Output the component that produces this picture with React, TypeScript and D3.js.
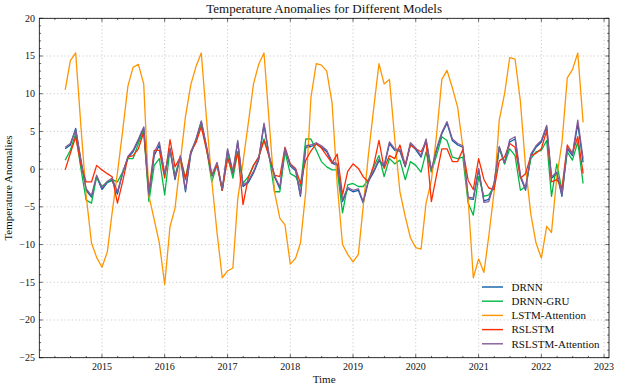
import React from 'react';
import * as d3 from 'd3';

const W = 618;
const H = 388;

// monthly series, June 2014 .. September 2022
const startDate = new Date(2014, 5, 1);
const nMonths = 100;

const seriesNames = ['DRNN', 'DRNN-GRU', 'LSTM-Attention', 'RSLSTM', 'RSLSTM-Attention'];
const seriesColors = ['#0C5DA5', '#00B945', '#FF9500', '#FF2C00', '#845B97'];

const drnn = [
  2.7, 3.2, 5.4, 1.0, -2.8, -3.7, -1.0, -2.7, -1.8, -1.5, -3.3, -0.5, 1.5, 2.3, 3.8, 5.5, -3.6, 1.8, 3.2, -0.8,
  2.6, -1.4, 1.6, -3.0, 2.0, 3.8, 6.3, 2.8, -1.0, 0.7, -2.8, 2.5, -0.6, 3.6, -2.3, -1.8, -0.5, 1.2, 5.9, 1.5,
  -1.0, -2.6, 2.6, 0.4, -0.2, -3.6, 2.9, 3.0, 3.3, 2.9, 2.3, 0.8, 0.5, -4.3, -2.6, -3.0, -2.8, -4.5, -1.6, -0.4,
  1.1, 0.3, 3.4, 2.5, 2.4, 0.3, 3.3, 2.6, 1.6, 3.8, -0.3, 2.5, 4.7, 6.1, 3.8, 3.2, 2.9, -3.9, -4.0, -0.1,
  -4.2, -4.0, -2.0, 2.8, 0.7, 3.6, 4.0, -1.0, -2.8, 1.8, 2.9, 3.6, 5.6, -1.2, -0.6, -3.6, 2.7, 1.8, 6.0, 0.9,
];

const drnnGru = [
  1.2, 2.5, 4.7, 0.0, -4.1, -4.5, -1.0, -2.3, -1.7, -1.4, -1.7, -0.4, 1.4, 1.4, 3.4, 5.1, -4.3, 0.5, 1.4, -3.4,
  2.7, -0.8, 1.6, -1.2, 2.3, 3.8, 6.0, 2.7, -1.7, 0.7, -2.8, 1.8, -1.2, 2.3, -1.9, -1.0, 0.5, 1.6, 4.0, 1.6,
  -3.0, -3.0, 2.3, -0.6, -1.0, -2.3, 4.0, 4.0, 2.5, 1.0, 0.3, -0.1, -0.1, -5.8, -2.1, -1.9, -2.3, -2.3, -1.4, 0.3,
  1.8, -1.0, 1.4, 0.7, 1.2, -1.4, 1.0, 0.5, -0.4, 2.3, -0.4, 1.8, 4.3, 3.8, 1.6, 1.4, 1.6, -4.5, -6.1, -1.0,
  -3.6, -3.4, -2.3, 2.9, 0.7, 2.7, 1.8, -2.8, -2.3, 1.4, 2.3, 2.5, 3.8, -3.6, 0.7, -2.8, 2.3, 1.2, 3.6, -1.9,
];

const lstmAttention = [
  10.5, 14.4, 15.4, 5.5, -3.5, -9.8, -11.7, -13.0, -11.0, -5.8, -0.5, 5.0, 11.0, 13.5, 13.9, 11.3, -3.5, -6.7, -9.8, -15.3,
  -7.6, -5.2, 1.0, 7.0, 11.2, 13.6, 15.4, 6.5, -1.5, -8.5, -14.4, -13.5, -13.1, -4.0, 1.0, 6.0, 11.3, 13.9, 15.4, 6.0,
  -3.0, -6.5, -7.4, -12.6, -11.8, -9.8, -3.0, 9.5, 14.0, 13.8, 13.0, 8.8, -2.0, -10.0, -11.3, -12.3, -11.3, -5.0, 2.0, 8.0,
  14.0, 11.3, 11.9, 4.0, -3.0, -6.3, -9.1, -10.4, -10.6, -4.5, -1.5, 4.5, 11.9, 13.1, 10.8, 8.2, 2.9, -4.0, -14.4, -11.9,
  -13.7, -8.9, -3.0, 6.5, 10.0, 14.8, 14.6, 9.0, 0.3, -6.0, -9.8, -11.8, -7.6, -8.4, -1.0, 3.5, 12.1, 13.2, 15.4, 6.2,
];

const rslstm = [
  -0.1, 2.1, 4.3, 0.5, -1.7, -1.7, 0.5, -0.1, -0.6, -1.0, -4.5, -1.7, 1.6, 1.8, 2.7, 4.9, -3.0, 2.5, 2.5, -1.2,
  3.9, 0.3, 1.6, -1.4, 2.3, 3.5, 5.6, 2.5, -0.8, 0.5, -2.8, 1.4, -0.4, 2.3, -4.7, -1.2, 0.5, 1.6, 3.8, 1.6,
  -0.8, -1.0, 2.9, 0.7, 0.1, -1.9, 1.2, 2.4, 3.4, 2.8, 1.8, 0.8, 2.0, -3.4, -0.3, 0.7, 0.1, -1.0, -1.7, 0.5,
  3.8, 0.1, 1.8, 1.4, 3.2, 0.5, 3.2, 2.7, 2.3, 3.6, -4.3, -0.8, 2.7, 2.7, 1.0, 1.0, 2.6, -1.5, -2.7, 1.4,
  -1.4, -2.5, -2.7, 1.1, 1.6, 3.4, 2.9, -1.2, -0.6, 1.8, 2.1, 2.7, 5.1, -1.7, -1.4, -2.5, 3.2, 2.1, 4.3, -0.6,
];

const rslstmAttention = [
  2.9, 3.4, 5.2, 1.2, -2.6, -3.5, -0.8, -2.5, -1.6, -1.2, -3.0, -0.6, 1.7, 2.5, 4.0, 5.6, -3.4, 2.2, 3.6, -0.6,
  2.8, -1.2, 1.8, -2.8, 2.2, 4.0, 6.4, 3.0, -0.8, 0.9, -2.6, 2.7, -0.3, 3.8, -2.1, -1.6, -0.3, 1.4, 6.1, 1.7,
  -0.8, -2.4, 2.8, 0.6, 0.0, -3.4, 3.1, 3.2, 3.5, 3.1, 2.5, 1.0, 0.7, -4.1, -2.4, -2.8, -2.6, -4.3, -1.4, -0.2,
  1.3, 0.5, 3.6, 2.7, 2.6, 0.5, 3.5, 2.8, 1.8, 4.0, -0.1, 2.7, 4.9, 6.3, 4.0, 3.4, 3.1, -3.7, -3.8, 0.1,
  -4.4, -4.3, -1.8, 3.0, 0.9, 3.9, 4.3, -0.8, -2.6, 2.0, 3.1, 3.8, 5.8, -1.0, -0.4, -3.4, 2.9, 2.0, 6.5, 1.4,
];

const seriesValues = [drnn, drnnGru, lstmAttention, rslstm, rslstmAttention];

const yTicks = [20, 15, 10, 5, 0, -5, -10, -15, -20, -25];
const xTickYears = [2015, 2016, 2017, 2018, 2019, 2020, 2021, 2022, 2023];

const FONT = "'Liberation Serif', 'DejaVu Serif', serif";

export default function App() {
  const dates = d3.range(nMonths).map((i) => d3.timeMonth.offset(startDate, i));
  const t0 = +dates[0];
  const t1 = +dates[dates.length - 1];
  const pad = (t1 - t0) * 0.05;

  const left = 39.3, right = 609, top = 18.3, bottom = 357.7;

  const x = d3.scaleTime().domain([new Date(t0 - pad), new Date(t1 + pad)]).range([left, right]);
  const y = d3.scaleLinear().domain([-25, 20]).range([bottom, top]);

  const line = d3
    .line<number>()
    .x((_, i) => x(dates[i]))
    .y((d) => y(d));

  const majorX = xTickYears.map((yr) => new Date(yr, 0, 1));
  const minorX: Date[] = [];
  for (let yr = 2013; yr <= 2023; yr++) {
    const a = +new Date(yr, 0, 1);
    const b = +new Date(yr + 1, 0, 1);
    for (let k = 1; k < 4; k++) {
      const t = new Date(a + ((b - a) * k) / 4);
      if (+t > +x.domain()[0] && +t < +x.domain()[1]) minorX.push(t);
    }
  }
  const minorY = d3.range(-25, 21, 1).filter((v) => v % 5 !== 0);

  const fmt = (v: number) => (v < 0 ? '\u2212' + Math.abs(v) : String(v));

  const legendX = 482;
  const legendY0 = 287;
  const legendDy = 14.2;

  return (
    <svg
      width={W}
      height={H}
      style={{ position: 'absolute', left: 0, top: 0, background: '#fff' }}
      fontFamily={FONT}
    >
      <rect x={0} y={0} width={W} height={H} fill="#fff" />
      {/* grid */}
      <g stroke="#a8a8a8" strokeWidth={0.7} strokeDasharray="1,2.6">
        {majorX.map((d, i) => (
          <line key={'gx' + i} x1={x(d)} x2={x(d)} y1={top} y2={bottom} />
        ))}
        {yTicks.map((v, i) => (
          <line key={'gy' + i} x1={left} x2={right} y1={y(v)} y2={y(v)} />
        ))}
      </g>
      {/* series */}
      <g fill="none" strokeWidth={1.3} strokeLinejoin="round">
        {seriesValues.map((vals, si) => (
          <path key={seriesNames[si]} d={line(vals) || ''} stroke={seriesColors[si]} />
        ))}
      </g>
      {/* frame */}
      <rect x={left} y={top} width={right - left} height={bottom - top} fill="none" stroke="#000" strokeWidth={0.8} />
      {/* ticks */}
      <g stroke="#000" strokeWidth={0.6}>
        {majorX.map((d, i) => (
          <g key={'tx' + i}>
            <line x1={x(d)} x2={x(d)} y1={bottom} y2={bottom - 3.5} />
            <line x1={x(d)} x2={x(d)} y1={top} y2={top + 3.5} />
          </g>
        ))}
        {minorX.map((d, i) => (
          <g key={'mx' + i}>
            <line x1={x(d)} x2={x(d)} y1={bottom} y2={bottom - 1.8} />
            <line x1={x(d)} x2={x(d)} y1={top} y2={top + 1.8} />
          </g>
        ))}
        {yTicks.map((v, i) => (
          <g key={'ty' + i}>
            <line x1={left} x2={left + 3.5} y1={y(v)} y2={y(v)} />
            <line x1={right} x2={right - 3.5} y1={y(v)} y2={y(v)} />
          </g>
        ))}
        {minorY.map((v, i) => (
          <g key={'my' + i}>
            <line x1={left} x2={left + 1.8} y1={y(v)} y2={y(v)} />
            <line x1={right} x2={right - 1.8} y1={y(v)} y2={y(v)} />
          </g>
        ))}
      </g>
      {/* tick labels */}
      <g fontSize={10} fill="#111">
        {majorX.map((d, i) => (
          <text key={'lx' + i} x={x(d)} y={370} textAnchor="middle">
            {xTickYears[i]}
          </text>
        ))}
        {yTicks.map((v, i) => (
          <text key={'ly' + i} x={35} y={y(v)} dy="0.34em" textAnchor="end">
            {fmt(v)}
          </text>
        ))}
      </g>
      {/* labels */}
      <text x={(left + right) / 2} y={13} textAnchor="middle" fontSize={13} fill="#111">
        Temperature Anomalies for Different Models
      </text>
      <text x={(left + right) / 2} y={383} textAnchor="middle" fontSize={11} fill="#111">
        Time
      </text>
      <text
        transform={`translate(12, ${(top + bottom) / 2}) rotate(-90)`}
        textAnchor="middle"
        fontSize={11}
        fill="#111"
      >
        Temperature Anomalies
      </text>
      {/* legend */}
      <g>
        {seriesNames.map((name, i) => (
          <g key={'lg' + i} transform={`translate(${legendX}, ${legendY0 + i * legendDy})`}>
            <line x1={0} x2={21} y1={0} y2={0} stroke={seriesColors[i]} strokeWidth={1.4} />
            <text x={29.5} y={0} dy="0.34em" fontSize={11} fill="#111">
              {name}
            </text>
          </g>
        ))}
      </g>
    </svg>
  );
}
